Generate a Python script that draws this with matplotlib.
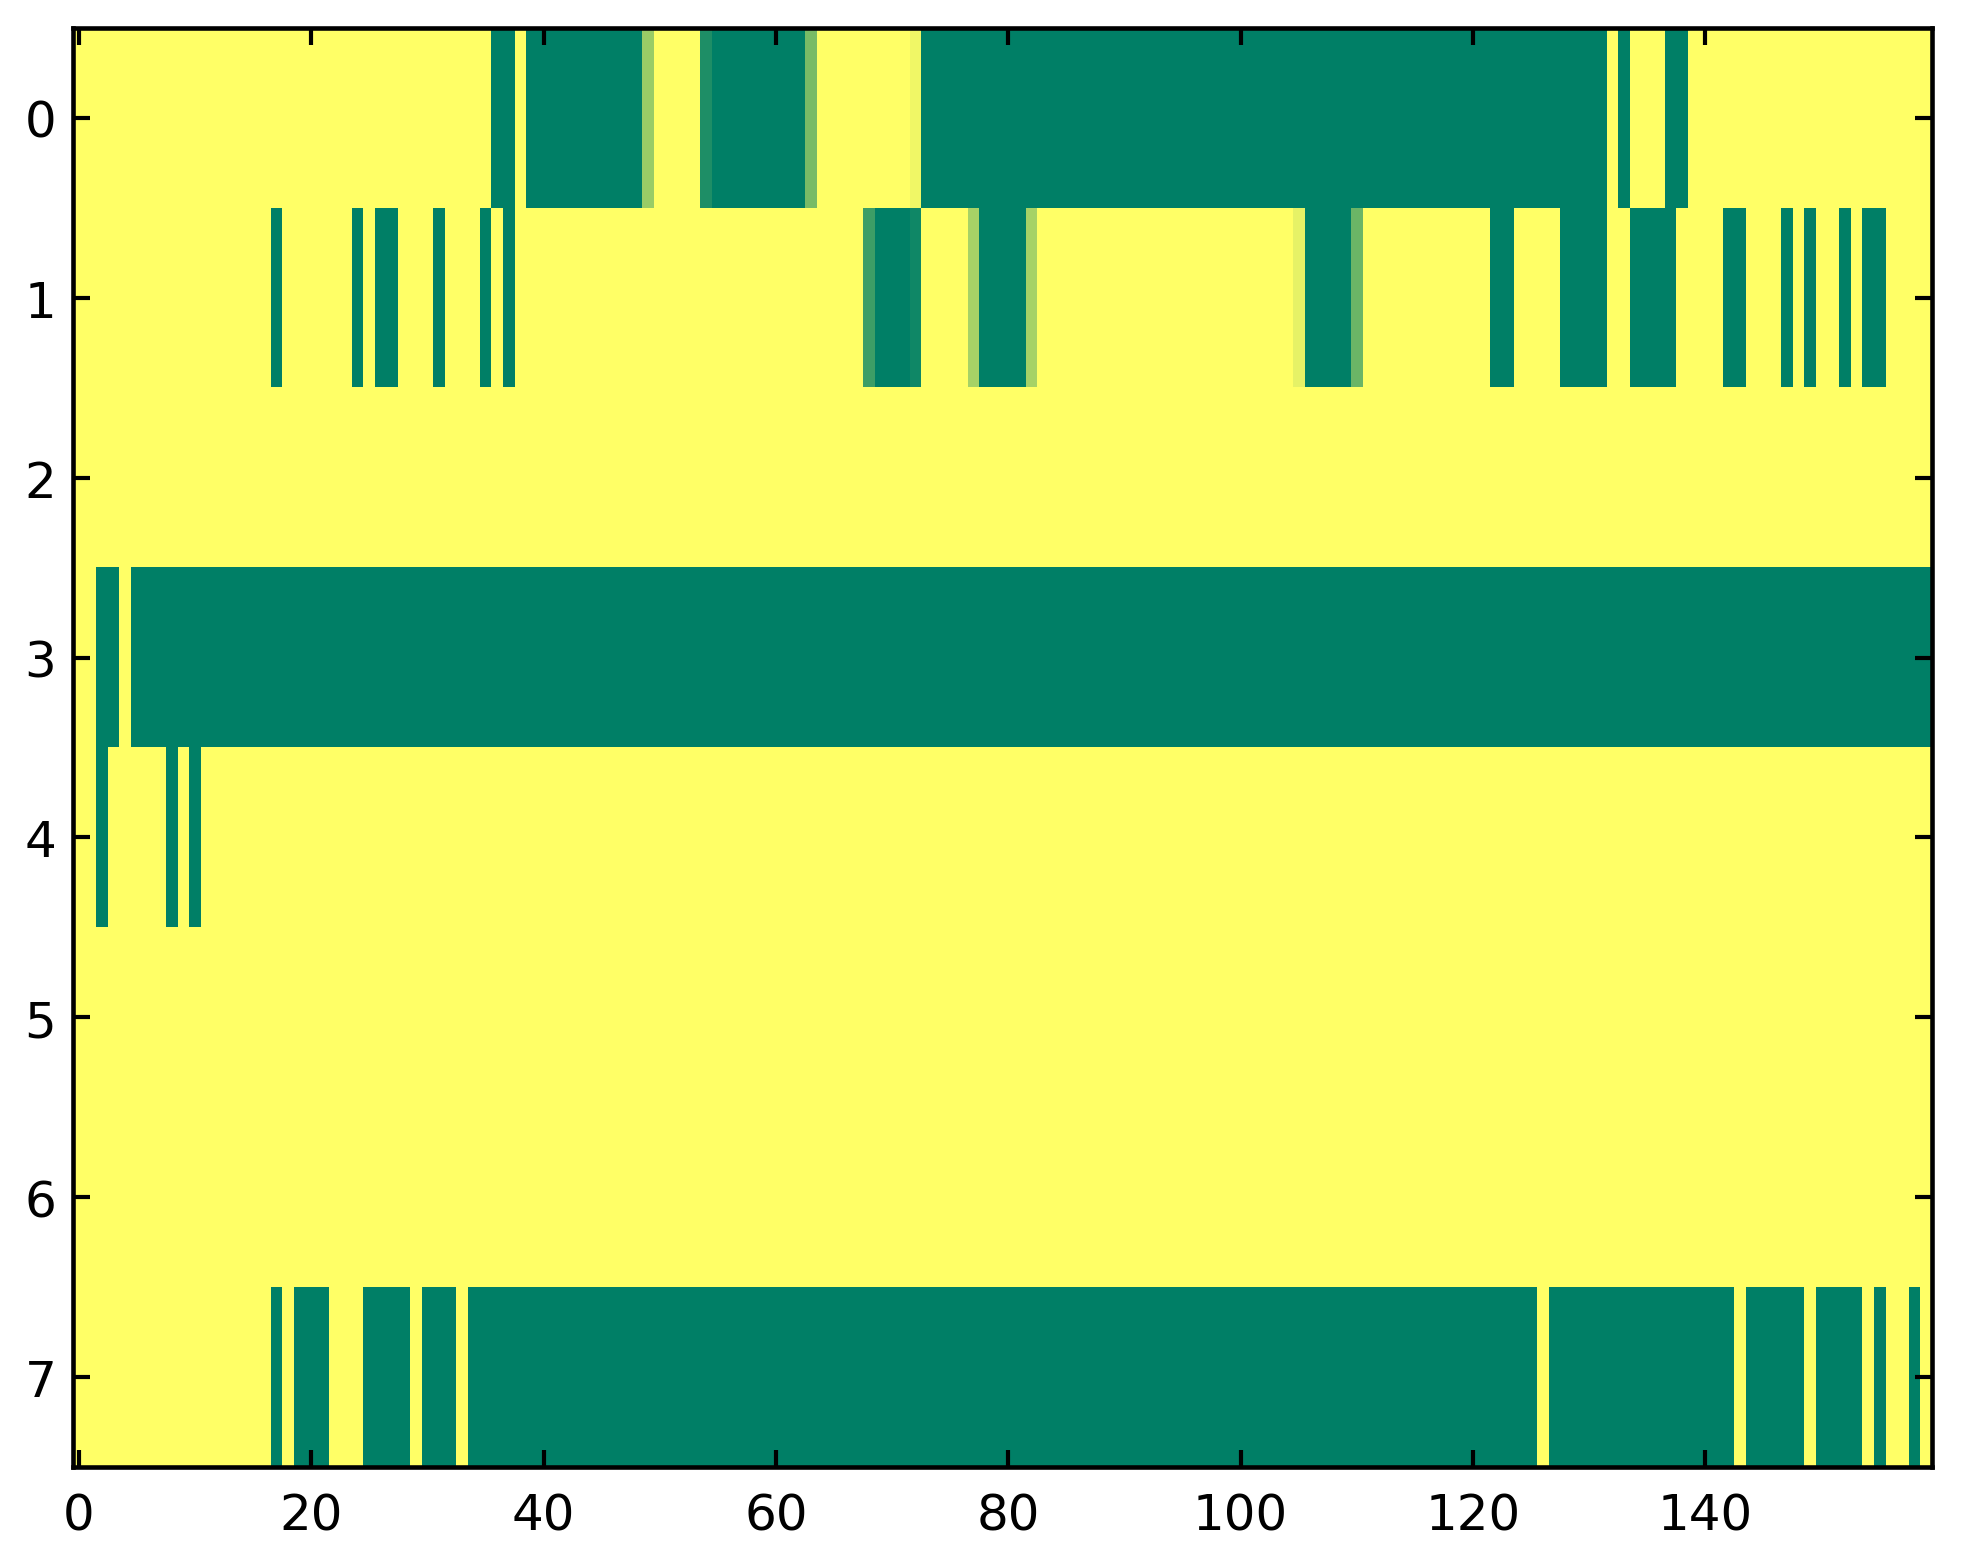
import numpy as np
import matplotlib
matplotlib.use("Agg")
import matplotlib.pyplot as plt

n_rows = 8
n_cols = 160

# Runs of columns (inclusive) with value 0 (dark green) per row; everything else is 1 (yellow)
row0_low = [(36, 37), (39, 48), (55, 62), (73, 131), (133, 133), (137, 138)]
row1_low = [(17, 17), (24, 24), (26, 27), (31, 31), (35, 35), (37, 37), (69, 71),
            (78, 81), (106, 109), (122, 123), (128, 131), (134, 137), (142, 143),
            (147, 147), (149, 149), (152, 152), (154, 155)]
row2_low = []
row3_low = [(2, 3), (5, 159)]
row4_low = [(2, 2), (8, 8), (10, 10)]
row5_low = []
row6_low = []
row7_low = [(17, 17), (19, 21), (25, 28), (30, 32), (34, 125), (127, 142),
            (144, 148), (150, 153), (155, 155), (158, 158)]

# Intermediate values: (row, col, value)
partial_values = [(0, 49, 0.60), (0, 54, 0.12), (0, 63, 0.47), (0, 72, 0.94),
                  (1, 68, 0.24), (1, 72, 0.06), (1, 77, 0.65), (1, 82, 0.65),
                  (1, 105, 0.90), (1, 110, 0.42)]

low_runs = [row0_low, row1_low, row2_low, row3_low, row4_low, row5_low, row6_low, row7_low]

data = np.ones((n_rows, n_cols))
for r, runs in enumerate(low_runs):
    for a, b in runs:
        data[r, a:b + 1] = 0.0
for r, c, v in partial_values:
    data[r, c] = v

plt.rcParams['font.family'] = ['DejaVu Sans']
plt.rcParams['font.size'] = 12

fig = plt.figure(figsize=(1963 / 300, 1564 / 300), dpi=300)
ax = fig.add_axes([73 / 1963, 1 - 1468 / 1564, (1932 - 73) / 1963, (1468 - 29) / 1564])
ax.imshow(data, cmap='summer', vmin=0, vmax=1, aspect='auto', interpolation='nearest')

ax.set_xticks([0, 20, 40, 60, 80, 100, 120, 140])
ax.set_yticks(range(8))
ax.tick_params(direction='in', top=True, right=True, length=4, width=1, labelsize=12)
ax.tick_params(axis='x', pad=6)
ax.tick_params(axis='y', pad=4)
for s in ax.spines.values():
    s.set_linewidth(1.1)

fig.savefig('out.png', dpi=300)
